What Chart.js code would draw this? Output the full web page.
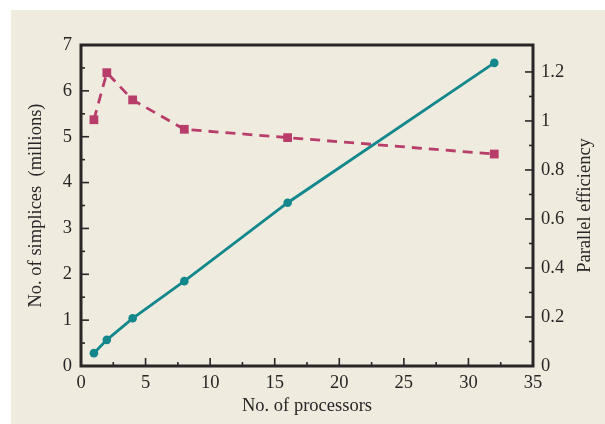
<!DOCTYPE html>
<html>
<head>
<meta charset="utf-8">
<script src="https://cdn.jsdelivr.net/npm/chart.js@4.4.1/dist/chart.umd.min.js"></script>
<style>
  html, body { margin: 0; padding: 0; background: #fff; }
  #panel { position: absolute; left: 11px; top: 10px; width: 594px; height: 414px; background: #efebdf; }
</style>
</head>
<body>
<div id="panel"><canvas id="chart" width="594" height="414"></canvas></div>
<script>
// values
const processors = [1, 2, 4, 8, 16, 32];
const simplices = [0.28, 0.57, 1.04, 1.85, 3.56, 6.61];   // millions, left axis
const efficiency = [1.005, 1.197, 1.086, 0.966, 0.932, 0.865]; // right axis
const rightTitle = 'Parallel efficiency';

const INK = '#2a2526';
const TEAL = '#12878c';
const ROSE = '#b83d6b';
const FONT = { family: '"Liberation Serif", "DejaVu Serif", serif', size: 18.5 };

// frame, inward major/minor ticks, and the right title (reads bottom-to-top)
const frameTicks = {
  id: 'frameTicks',
  afterDraw(chart) {
    const { ctx, chartArea: a, scales } = chart;
    ctx.save();
    ctx.strokeStyle = INK;
    ctx.lineWidth = 1.6;

    const marks = (scale) => {
      const vals = scale.ticks.map((t) => t.value);
      const out = vals.map((v) => ({ v, len: 8 }));
      for (let i = 0; i < vals.length - 1; i++) {
        out.push({ v: (vals[i] + vals[i + 1]) / 2, len: 4 });
      }
      return out;
    };

    marks(scales.x).forEach(({ v, len }) => {
      const px = scales.x.getPixelForValue(v);
      ctx.beginPath();
      ctx.moveTo(px, a.bottom);
      ctx.lineTo(px, a.bottom - len);
      ctx.stroke();
    });
    marks(scales.y).forEach(({ v, len }) => {
      const py = scales.y.getPixelForValue(v);
      ctx.beginPath();
      ctx.moveTo(a.left, py);
      ctx.lineTo(a.left + len, py);
      ctx.stroke();
    });
    marks(scales.y1).forEach(({ v, len }) => {
      const py = scales.y1.getPixelForValue(v);
      ctx.beginPath();
      ctx.moveTo(a.right, py);
      ctx.lineTo(a.right - len, py);
      ctx.stroke();
    });

    ctx.lineWidth = 3;
    ctx.strokeRect(a.left, a.top, a.right - a.left, a.bottom - a.top);

    const s = scales.y1;
    ctx.translate(s.right - 20, (a.top + a.bottom) / 2);
    ctx.rotate(-Math.PI / 2);
    ctx.fillStyle = INK;
    ctx.font = `${FONT.size}px ${FONT.family}`;
    ctx.textAlign = 'center';
    ctx.textBaseline = 'middle';
    ctx.fillText(rightTitle, 0, 0);
    ctx.restore();
  },
};

new Chart(document.getElementById('chart'), {
  type: 'line',
  data: {
    datasets: [
      {
        label: 'simplices',
        data: processors.map((p, i) => ({ x: p, y: simplices[i] })),
        yAxisID: 'y',
        borderColor: TEAL,
        backgroundColor: TEAL,
        borderWidth: 2.8,
        pointStyle: 'circle',
        pointRadius: 4.3,
        pointBorderWidth: 0,
        tension: 0,
      },
      {
        label: 'efficiency',
        data: processors.map((p, i) => ({ x: p, y: efficiency[i] })),
        yAxisID: 'y1',
        borderColor: ROSE,
        backgroundColor: ROSE,
        borderWidth: 2.8,
        borderDash: [10, 7],
        pointStyle: 'rect',
        pointRadius: 6.2,
        pointBorderWidth: 0,
        tension: 0,
      },
    ],
  },
  options: {
    responsive: false,
    animation: false,
    layout: { padding: { top: 35, right: 0, left: 0, bottom: 0 } },
    plugins: { legend: { display: false }, tooltip: { enabled: false } },
    scales: {
      x: {
        type: 'linear',
        min: 0,
        max: 35,
        afterFit: (s) => { s.height = 58; },
        grid: { display: false, drawTicks: false },
        border: { display: false },
        ticks: { stepSize: 5, color: INK, font: FONT, padding: 6, maxRotation: 0 },
        title: { display: true, text: 'No. of processors', color: INK, font: FONT, padding: { top: 0, bottom: 7 } },
      },
      y: {
        position: 'left',
        min: 0,
        max: 7,
        afterFit: (s) => { s.width = 70; },
        grid: { display: false, drawTicks: false },
        border: { display: false },
        ticks: { stepSize: 1, color: INK, font: FONT, padding: 9 },
        title: { display: true, text: 'No. of simplices  (millions)', color: INK, font: FONT, padding: { top: 14, bottom: 0 } },
      },
      y1: {
        position: 'right',
        min: 0,
        max: 1.31,
        afterFit: (s) => { s.width = 72; },
        grid: { display: false, drawTicks: false },
        border: { display: false },
        ticks: {
          stepSize: 0.2,
          includeBounds: false,
          color: INK,
          font: FONT,
          padding: 8,
          callback: (v) => String(Number(v.toFixed(2))),
        },
      },
    },
  },
  plugins: [frameTicks],
});
</script>
</body>
</html>
